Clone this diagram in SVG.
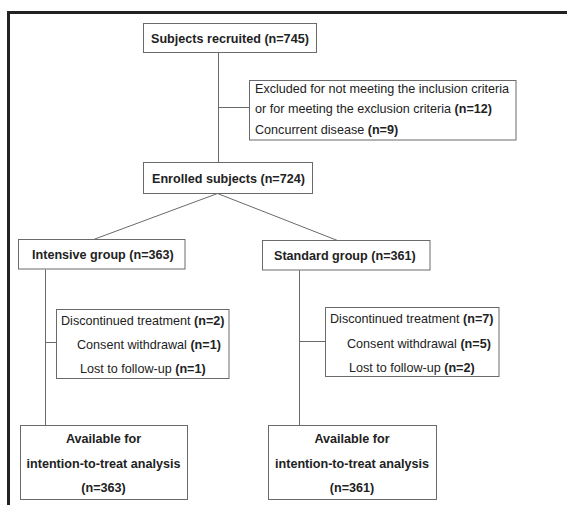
<svg xmlns="http://www.w3.org/2000/svg" width="567" height="505" viewBox="0 0 567 505">
<style>
.box{fill:#fff;stroke:#6a6a6a;stroke-width:1}
.ln{stroke:#6a6a6a;stroke-width:1;fill:none}
text{font-family:"Liberation Sans",Arial,sans-serif;font-size:12.6px;fill:#222}
.b{font-weight:bold}
.c{text-anchor:middle}
</style>
<rect width="567" height="505" fill="#fff"/>
<path d="M8.5,505 V12.5 H567" fill="none" stroke="#222" stroke-width="3"/>
<g id="connectors">
<path class="ln" d="M218.5,52.5 V162.5"/>
<path class="ln" d="M218.5,107.5 H249.5"/>
<path class="ln" d="M217.5,193.5 L93.5,239.5"/>
<path class="ln" d="M217.5,193.5 L337.5,240.5"/>
<path class="ln" d="M45.5,269.5 V425"/>
<path class="ln" d="M45.5,342.5 H56.5"/>
<path class="ln" d="M299.5,270.5 V425"/>
<path class="ln" d="M299.5,341.5 H325.5"/>
</g>
<g id="recruited">
<rect class="box" x="143.5" y="23.5" width="173" height="29"/>
<text class="b" x="151" y="42.5">Subjects recruited (n=745)</text>
</g>
<g id="excluded">
<rect class="box" x="249.5" y="80.5" width="266.5" height="59.5"/>
<text x="255" y="92.5">Excluded for not meeting the inclusion criteria</text>
<text x="255" y="113">or for meeting the exclusion criteria <tspan class="b">(n=12)</tspan></text>
<text x="255" y="133.5">Concurrent disease <tspan class="b">(n=9)</tspan></text>
</g>
<g id="enrolled">
<rect class="box" x="143.5" y="162.5" width="169" height="31"/>
<text class="b" x="152" y="182.5">Enrolled subjects (n=724)</text>
</g>
<g id="intensive">
<rect class="box" x="18.5" y="239.5" width="166.5" height="29.5"/>
<text class="b" x="32" y="259">Intensive group (n=363)</text>
</g>
<g id="standard">
<rect class="box" x="262.5" y="240.5" width="167.5" height="29.5"/>
<text class="b" x="274" y="260">Standard group (n=361)</text>
</g>
<g id="disc-intensive">
<rect class="box" x="56.5" y="309.5" width="172.5" height="69"/>
<text x="61" y="325">Discontinued treatment <tspan class="b">(n=2)</tspan></text>
<text x="77" y="349">Consent withdrawal <tspan class="b">(n=1)</tspan></text>
<text x="80" y="373">Lost to follow-up <tspan class="b">(n=1)</tspan></text>
</g>
<g id="disc-standard">
<rect class="box" x="325.5" y="307.5" width="173.5" height="69"/>
<text x="330" y="323">Discontinued treatment <tspan class="b">(n=7)</tspan></text>
<text x="347" y="348">Consent withdrawal <tspan class="b">(n=5)</tspan></text>
<text x="349" y="371.5">Lost to follow-up <tspan class="b">(n=2)</tspan></text>
</g>
<g id="itt-intensive">
<rect class="box" x="20.5" y="425.5" width="167" height="74"/>
<text class="b c" x="103.5" y="442.5">Available for</text>
<text class="b c" x="103.5" y="467.5">intention-to-treat analysis</text>
<text class="b c" x="103.5" y="491.5">(n=363)</text>
</g>
<g id="itt-standard">
<rect class="box" x="268.5" y="425.5" width="168" height="74"/>
<text class="b c" x="352" y="442.5">Available for</text>
<text class="b c" x="352" y="467.5">intention-to-treat analysis</text>
<text class="b c" x="352" y="491.5">(n=361)</text>
</g>
</svg>
